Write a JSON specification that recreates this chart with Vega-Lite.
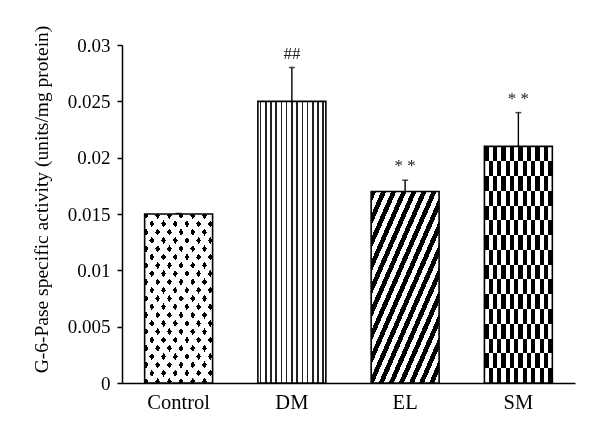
{
  "$schema": "https://vega.github.io/schema/vega-lite/v6.json",
  "width": 453,
  "height": 338,
  "autosize": "none",
  "padding": {"left": 122, "top": 45, "right": 25, "bottom": 52},
  "background": "white",
  "config": {"view": {"stroke": null}, "font": "Liberation Serif"},
  "data": {"values": [
    {"group": "Control", "mean": 0.015, "upper": 0.01505, "ann": ""},
    {"group": "DM", "mean": 0.025, "upper": 0.028, "ann": "##"},
    {"group": "EL", "mean": 0.017, "upper": 0.018, "ann": "* *"},
    {"group": "SM", "mean": 0.021, "upper": 0.024, "ann": "* *"}
  ]},
  "encoding": {
    "x": {
      "field": "group", "type": "nominal", "sort": ["Control", "DM", "EL", "SM"],
      "scale": {"paddingInner": 0.4, "paddingOuter": 0.2},
      "axis": {
        "title": null, "labelAngle": 0, "ticks": false, "tickSize": 0,
        "domainColor": "#000", "domainWidth": 1.5,
        "labelFont": "Liberation Serif", "labelFontSize": 20.5, "labelColor": "#000",
        "labelBaseline": "alphabetic", "labelPadding": 25
      }
    },
    "y": {
      "field": "mean", "type": "quantitative",
      "title": "G-6-Pase specific activity (units/mg protein)",
      "scale": {"domain": [0, 0.03], "nice": false, "zero": true},
      "axis": {
        "values": [0, 0.005, 0.01, 0.015, 0.02, 0.025, 0.03], "format": "~g",
        "grid": false, "domainColor": "#000", "domainWidth": 1.5,
        "tickColor": "#000", "tickWidth": 1.5, "tickSize": 5,
        "labelFont": "Liberation Serif", "labelFontSize": 19, "labelColor": "#000", "labelPadding": 7,
        "titleFont": "Liberation Serif", "titleFontSize": 19.5, "titleFontWeight": "normal", "titleColor": "#000",
        "titleBaseline": "alphabetic", "titleX": -75, "titleY": 154, "titleAngle": -90, "titleAlign": "center"
      }
    }
  },
  "layer": [
    {
      "transform": [{"filter": "datum.group === 'Control'"}],
      "mark": {"type": "bar", "fill": {"gradient": "linear", "x1": 0, "y1": 1, "x2": 0.6758, "y2": -0.1849, "stops": [
        {"offset": 0, "color": "#000"}, {"offset": 0.02625, "color": "#000"}, {"offset": 0.02625, "color": "#fff"}, {"offset": 0.0625, "color": "#fff"},
        {"offset": 0.0625, "color": "#000"}, {"offset": 0.08875, "color": "#000"}, {"offset": 0.08875, "color": "#fff"}, {"offset": 0.125, "color": "#fff"},
        {"offset": 0.125, "color": "#000"}, {"offset": 0.15125, "color": "#000"}, {"offset": 0.15125, "color": "#fff"}, {"offset": 0.1875, "color": "#fff"},
        {"offset": 0.1875, "color": "#000"}, {"offset": 0.21375, "color": "#000"}, {"offset": 0.21375, "color": "#fff"}, {"offset": 0.25, "color": "#fff"},
        {"offset": 0.25, "color": "#000"}, {"offset": 0.27625, "color": "#000"}, {"offset": 0.27625, "color": "#fff"}, {"offset": 0.3125, "color": "#fff"},
        {"offset": 0.3125, "color": "#000"}, {"offset": 0.33875, "color": "#000"}, {"offset": 0.33875, "color": "#fff"}, {"offset": 0.375, "color": "#fff"},
        {"offset": 0.375, "color": "#000"}, {"offset": 0.40125, "color": "#000"}, {"offset": 0.40125, "color": "#fff"}, {"offset": 0.4375, "color": "#fff"},
        {"offset": 0.4375, "color": "#000"}, {"offset": 0.46375, "color": "#000"}, {"offset": 0.46375, "color": "#fff"}, {"offset": 0.5, "color": "#fff"},
        {"offset": 0.5, "color": "#000"}, {"offset": 0.52625, "color": "#000"}, {"offset": 0.52625, "color": "#fff"}, {"offset": 0.5625, "color": "#fff"},
        {"offset": 0.5625, "color": "#000"}, {"offset": 0.58875, "color": "#000"}, {"offset": 0.58875, "color": "#fff"}, {"offset": 0.625, "color": "#fff"},
        {"offset": 0.625, "color": "#000"}, {"offset": 0.65125, "color": "#000"}, {"offset": 0.65125, "color": "#fff"}, {"offset": 0.6875, "color": "#fff"},
        {"offset": 0.6875, "color": "#000"}, {"offset": 0.71375, "color": "#000"}, {"offset": 0.71375, "color": "#fff"}, {"offset": 0.75, "color": "#fff"},
        {"offset": 0.75, "color": "#000"}, {"offset": 0.77625, "color": "#000"}, {"offset": 0.77625, "color": "#fff"}, {"offset": 0.8125, "color": "#fff"},
        {"offset": 0.8125, "color": "#000"}, {"offset": 0.83875, "color": "#000"}, {"offset": 0.83875, "color": "#fff"}, {"offset": 0.875, "color": "#fff"},
        {"offset": 0.875, "color": "#000"}, {"offset": 0.90125, "color": "#000"}, {"offset": 0.90125, "color": "#fff"}, {"offset": 0.9375, "color": "#fff"},
        {"offset": 0.9375, "color": "#000"}, {"offset": 0.96375, "color": "#000"}, {"offset": 0.96375, "color": "#fff"}, {"offset": 1, "color": "#fff"}
      ]}}
    },
    {
      "transform": [{"filter": "datum.group === 'Control'"}],
      "mark": {"type": "bar", "blend": "lighten", "fill": {"gradient": "linear", "x1": 0, "y1": 0, "x2": 0.6758, "y2": 1.1849, "stops": [
        {"offset": 0, "color": "#000"}, {"offset": 0.02625, "color": "#000"}, {"offset": 0.02625, "color": "#fff"}, {"offset": 0.0625, "color": "#fff"},
        {"offset": 0.0625, "color": "#000"}, {"offset": 0.08875, "color": "#000"}, {"offset": 0.08875, "color": "#fff"}, {"offset": 0.125, "color": "#fff"},
        {"offset": 0.125, "color": "#000"}, {"offset": 0.15125, "color": "#000"}, {"offset": 0.15125, "color": "#fff"}, {"offset": 0.1875, "color": "#fff"},
        {"offset": 0.1875, "color": "#000"}, {"offset": 0.21375, "color": "#000"}, {"offset": 0.21375, "color": "#fff"}, {"offset": 0.25, "color": "#fff"},
        {"offset": 0.25, "color": "#000"}, {"offset": 0.27625, "color": "#000"}, {"offset": 0.27625, "color": "#fff"}, {"offset": 0.3125, "color": "#fff"},
        {"offset": 0.3125, "color": "#000"}, {"offset": 0.33875, "color": "#000"}, {"offset": 0.33875, "color": "#fff"}, {"offset": 0.375, "color": "#fff"},
        {"offset": 0.375, "color": "#000"}, {"offset": 0.40125, "color": "#000"}, {"offset": 0.40125, "color": "#fff"}, {"offset": 0.4375, "color": "#fff"},
        {"offset": 0.4375, "color": "#000"}, {"offset": 0.46375, "color": "#000"}, {"offset": 0.46375, "color": "#fff"}, {"offset": 0.5, "color": "#fff"},
        {"offset": 0.5, "color": "#000"}, {"offset": 0.52625, "color": "#000"}, {"offset": 0.52625, "color": "#fff"}, {"offset": 0.5625, "color": "#fff"},
        {"offset": 0.5625, "color": "#000"}, {"offset": 0.58875, "color": "#000"}, {"offset": 0.58875, "color": "#fff"}, {"offset": 0.625, "color": "#fff"},
        {"offset": 0.625, "color": "#000"}, {"offset": 0.65125, "color": "#000"}, {"offset": 0.65125, "color": "#fff"}, {"offset": 0.6875, "color": "#fff"},
        {"offset": 0.6875, "color": "#000"}, {"offset": 0.71375, "color": "#000"}, {"offset": 0.71375, "color": "#fff"}, {"offset": 0.75, "color": "#fff"},
        {"offset": 0.75, "color": "#000"}, {"offset": 0.77625, "color": "#000"}, {"offset": 0.77625, "color": "#fff"}, {"offset": 0.8125, "color": "#fff"},
        {"offset": 0.8125, "color": "#000"}, {"offset": 0.83875, "color": "#000"}, {"offset": 0.83875, "color": "#fff"}, {"offset": 0.875, "color": "#fff"},
        {"offset": 0.875, "color": "#000"}, {"offset": 0.90125, "color": "#000"}, {"offset": 0.90125, "color": "#fff"}, {"offset": 0.9375, "color": "#fff"},
        {"offset": 0.9375, "color": "#000"}, {"offset": 0.96375, "color": "#000"}, {"offset": 0.96375, "color": "#fff"}, {"offset": 1, "color": "#fff"}
      ]}}
    },
    {
      "transform": [{"filter": "datum.group === 'DM'"}],
      "mark": {"type": "bar", "fill": {"gradient": "linear", "x1": 0, "y1": 0, "x2": 1, "y2": 0, "stops": [
        {"offset": 0, "color": "#fff"},
        {"offset": 0.02692, "color": "#fff"}, {"offset": 0.02692, "color": "#222"}, {"offset": 0.05, "color": "#222"}, {"offset": 0.05, "color": "#fff"},
        {"offset": 0.10385, "color": "#fff"}, {"offset": 0.10385, "color": "#222"}, {"offset": 0.12692, "color": "#222"}, {"offset": 0.12692, "color": "#fff"},
        {"offset": 0.18077, "color": "#fff"}, {"offset": 0.18077, "color": "#222"}, {"offset": 0.20385, "color": "#222"}, {"offset": 0.20385, "color": "#fff"},
        {"offset": 0.25769, "color": "#fff"}, {"offset": 0.25769, "color": "#222"}, {"offset": 0.28077, "color": "#222"}, {"offset": 0.28077, "color": "#fff"},
        {"offset": 0.33462, "color": "#fff"}, {"offset": 0.33462, "color": "#222"}, {"offset": 0.35769, "color": "#222"}, {"offset": 0.35769, "color": "#fff"},
        {"offset": 0.41154, "color": "#fff"}, {"offset": 0.41154, "color": "#222"}, {"offset": 0.43462, "color": "#222"}, {"offset": 0.43462, "color": "#fff"},
        {"offset": 0.48846, "color": "#fff"}, {"offset": 0.48846, "color": "#222"}, {"offset": 0.51154, "color": "#222"}, {"offset": 0.51154, "color": "#fff"},
        {"offset": 0.56538, "color": "#fff"}, {"offset": 0.56538, "color": "#222"}, {"offset": 0.58846, "color": "#222"}, {"offset": 0.58846, "color": "#fff"},
        {"offset": 0.64231, "color": "#fff"}, {"offset": 0.64231, "color": "#222"}, {"offset": 0.66538, "color": "#222"}, {"offset": 0.66538, "color": "#fff"},
        {"offset": 0.71923, "color": "#fff"}, {"offset": 0.71923, "color": "#222"}, {"offset": 0.74231, "color": "#222"}, {"offset": 0.74231, "color": "#fff"},
        {"offset": 0.79615, "color": "#fff"}, {"offset": 0.79615, "color": "#222"}, {"offset": 0.81923, "color": "#222"}, {"offset": 0.81923, "color": "#fff"},
        {"offset": 0.87308, "color": "#fff"}, {"offset": 0.87308, "color": "#222"}, {"offset": 0.89615, "color": "#222"}, {"offset": 0.89615, "color": "#fff"},
        {"offset": 0.95, "color": "#fff"}, {"offset": 0.95, "color": "#222"}, {"offset": 0.97308, "color": "#222"}, {"offset": 0.97308, "color": "#fff"},
        {"offset": 1, "color": "#fff"}
      ]}}
    },
    {
      "transform": [{"filter": "datum.group === 'EL'"}],
      "mark": {"type": "bar", "fill": {"gradient": "linear", "x1": 0, "y1": 0, "x2": 0.8897, "y2": 1.09, "stops": [
        {"offset": 0, "color": "#000"},
        {"offset": 0.03333, "color": "#000"}, {"offset": 0.03333, "color": "#fff"},
        {"offset": 0.06667, "color": "#fff"}, {"offset": 0.06667, "color": "#000"},
        {"offset": 0.1, "color": "#000"}, {"offset": 0.1, "color": "#fff"},
        {"offset": 0.13333, "color": "#fff"}, {"offset": 0.13333, "color": "#000"},
        {"offset": 0.16667, "color": "#000"}, {"offset": 0.16667, "color": "#fff"},
        {"offset": 0.2, "color": "#fff"}, {"offset": 0.2, "color": "#000"},
        {"offset": 0.23333, "color": "#000"}, {"offset": 0.23333, "color": "#fff"},
        {"offset": 0.26667, "color": "#fff"}, {"offset": 0.26667, "color": "#000"},
        {"offset": 0.3, "color": "#000"}, {"offset": 0.3, "color": "#fff"},
        {"offset": 0.33333, "color": "#fff"}, {"offset": 0.33333, "color": "#000"},
        {"offset": 0.36667, "color": "#000"}, {"offset": 0.36667, "color": "#fff"},
        {"offset": 0.4, "color": "#fff"}, {"offset": 0.4, "color": "#000"},
        {"offset": 0.43333, "color": "#000"}, {"offset": 0.43333, "color": "#fff"},
        {"offset": 0.46667, "color": "#fff"}, {"offset": 0.46667, "color": "#000"},
        {"offset": 0.5, "color": "#000"}, {"offset": 0.5, "color": "#fff"},
        {"offset": 0.53333, "color": "#fff"}, {"offset": 0.53333, "color": "#000"},
        {"offset": 0.56667, "color": "#000"}, {"offset": 0.56667, "color": "#fff"},
        {"offset": 0.6, "color": "#fff"}, {"offset": 0.6, "color": "#000"},
        {"offset": 0.63333, "color": "#000"}, {"offset": 0.63333, "color": "#fff"},
        {"offset": 0.66667, "color": "#fff"}, {"offset": 0.66667, "color": "#000"},
        {"offset": 0.7, "color": "#000"}, {"offset": 0.7, "color": "#fff"},
        {"offset": 0.73333, "color": "#fff"}, {"offset": 0.73333, "color": "#000"},
        {"offset": 0.76667, "color": "#000"}, {"offset": 0.76667, "color": "#fff"},
        {"offset": 0.8, "color": "#fff"}, {"offset": 0.8, "color": "#000"},
        {"offset": 0.83333, "color": "#000"}, {"offset": 0.83333, "color": "#fff"},
        {"offset": 0.86667, "color": "#fff"}, {"offset": 0.86667, "color": "#000"},
        {"offset": 0.9, "color": "#000"}, {"offset": 0.9, "color": "#fff"},
        {"offset": 0.93333, "color": "#fff"}, {"offset": 0.93333, "color": "#000"},
        {"offset": 0.96667, "color": "#000"}, {"offset": 0.96667, "color": "#fff"},
        {"offset": 1, "color": "#fff"}
      ]}}
    },
    {
      "transform": [{"filter": "datum.group === 'SM'"}],
      "mark": {"type": "bar", "fill": {"gradient": "linear", "x1": 0, "y1": 0, "x2": 1, "y2": 0, "stops": [
        {"offset": 0, "color": "#000"},
        {"offset": 0.0625, "color": "#000"}, {"offset": 0.0625, "color": "#fff"},
        {"offset": 0.125, "color": "#fff"}, {"offset": 0.125, "color": "#000"},
        {"offset": 0.1875, "color": "#000"}, {"offset": 0.1875, "color": "#fff"},
        {"offset": 0.25, "color": "#fff"}, {"offset": 0.25, "color": "#000"},
        {"offset": 0.3125, "color": "#000"}, {"offset": 0.3125, "color": "#fff"},
        {"offset": 0.375, "color": "#fff"}, {"offset": 0.375, "color": "#000"},
        {"offset": 0.4375, "color": "#000"}, {"offset": 0.4375, "color": "#fff"},
        {"offset": 0.5, "color": "#fff"}, {"offset": 0.5, "color": "#000"},
        {"offset": 0.5625, "color": "#000"}, {"offset": 0.5625, "color": "#fff"},
        {"offset": 0.625, "color": "#fff"}, {"offset": 0.625, "color": "#000"},
        {"offset": 0.6875, "color": "#000"}, {"offset": 0.6875, "color": "#fff"},
        {"offset": 0.75, "color": "#fff"}, {"offset": 0.75, "color": "#000"},
        {"offset": 0.8125, "color": "#000"}, {"offset": 0.8125, "color": "#fff"},
        {"offset": 0.875, "color": "#fff"}, {"offset": 0.875, "color": "#000"},
        {"offset": 0.9375, "color": "#000"}, {"offset": 0.9375, "color": "#fff"},
        {"offset": 1, "color": "#fff"}
      ]}}
    },
    {
      "transform": [{"filter": "datum.group === 'SM'"}],
      "mark": {"type": "bar", "blend": "difference", "fill": {"gradient": "linear", "x1": 0, "y1": 0, "x2": 0, "y2": 1, "stops": [
        {"offset": 0, "color": "#000"},
        {"offset": 0.0625, "color": "#000"}, {"offset": 0.0625, "color": "#fff"},
        {"offset": 0.125, "color": "#fff"}, {"offset": 0.125, "color": "#000"},
        {"offset": 0.1875, "color": "#000"}, {"offset": 0.1875, "color": "#fff"},
        {"offset": 0.25, "color": "#fff"}, {"offset": 0.25, "color": "#000"},
        {"offset": 0.3125, "color": "#000"}, {"offset": 0.3125, "color": "#fff"},
        {"offset": 0.375, "color": "#fff"}, {"offset": 0.375, "color": "#000"},
        {"offset": 0.4375, "color": "#000"}, {"offset": 0.4375, "color": "#fff"},
        {"offset": 0.5, "color": "#fff"}, {"offset": 0.5, "color": "#000"},
        {"offset": 0.5625, "color": "#000"}, {"offset": 0.5625, "color": "#fff"},
        {"offset": 0.625, "color": "#fff"}, {"offset": 0.625, "color": "#000"},
        {"offset": 0.6875, "color": "#000"}, {"offset": 0.6875, "color": "#fff"},
        {"offset": 0.75, "color": "#fff"}, {"offset": 0.75, "color": "#000"},
        {"offset": 0.8125, "color": "#000"}, {"offset": 0.8125, "color": "#fff"},
        {"offset": 0.875, "color": "#fff"}, {"offset": 0.875, "color": "#000"},
        {"offset": 0.9375, "color": "#000"}, {"offset": 0.9375, "color": "#fff"},
        {"offset": 1, "color": "#fff"}
      ]}}
    },
    {
      "mark": {"type": "bar", "fill": "#fff", "fillOpacity": 0, "stroke": "#000", "strokeWidth": 1.6}
    },
    {
      "mark": {"type": "rule", "color": "#000", "strokeWidth": 1.4},
      "encoding": {"y2": {"field": "upper"}}
    },
    {
      "mark": {"type": "tick", "color": "#000", "size": 6, "thickness": 1.5},
      "encoding": {"y": {"field": "upper", "type": "quantitative", "title": "G-6-Pase specific activity (units/mg protein)"}}
    },
    {
      "mark": {"type": "text", "font": "Liberation Serif", "fontSize": 17, "color": "#222", "baseline": "alphabetic", "dy": -9},
      "encoding": {
        "y": {"field": "upper", "type": "quantitative", "title": "G-6-Pase specific activity (units/mg protein)"},
        "text": {"field": "ann"}
      }
    }
  ]
}
